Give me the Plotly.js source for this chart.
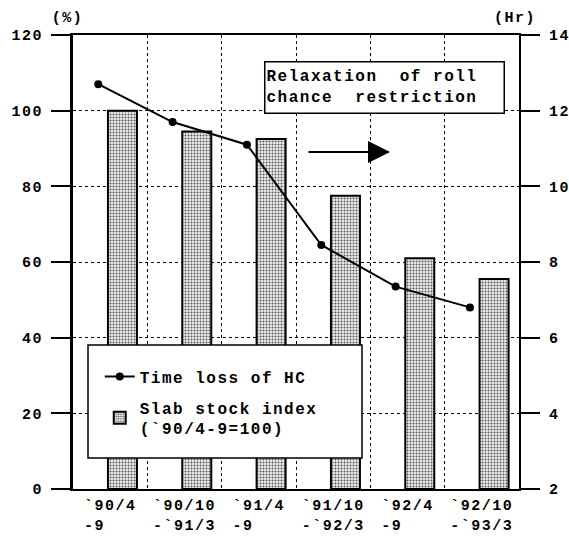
<!DOCTYPE html>
<html>
<head>
<meta charset="utf-8">
<script src="https://cdn.plot.ly/plotly-3.0.1.min.js"></script>
<style>
html,body{margin:0;padding:0;background:#fff;}
#chart{width:569px;height:536px;}
.main-svg text{letter-spacing:1.5px;}
</style>
</head>
<body>
<div id="chart"></div>
<script>
// Data
var periods = ["`90/4<br>-9\u00a0\u00a0\u00a0", "`90/10<br>-`91/3", "`91/4<br>-9\u00a0\u00a0\u00a0", "`91/10<br>-`92/3", "`92/4<br>-9\u00a0\u00a0\u00a0", "`92/10<br>-`93/3"];
var slabStockIndex = [100, 94.5, 92.5, 77.5, 61, 55.5];      // % (left axis)
var timeLossHC = [12.7, 11.7, 11.1, 8.45, 7.35, 6.8];        // Hr (right axis)
var leftTicks = [0, 20, 40, 60, 80, 100, 120];
var rightTicks = [2, 4, 6, 8, 10, 12, 14];

var idx = periods.map(function (_, i) { return i; });
var lineX = idx.map(function (i) { return i - 0.16; });

var FONT = "'Liberation Mono', 'DejaVu Sans Mono', monospace";
var PAD = '\u00a0\u00a0\u00a0\u00a0\u00a0';

var traces = [
  {
    type: 'bar',
    name: 'Slab stock index' + PAD + '<br>(`90/4-9=100)',
    x: idx,
    y: slabStockIndex,
    width: 0.39,
    offset: -0.03,
    marker: {
      color: '#d0d0d0',
      line: {color: '#000', width: 2},
      pattern: {shape: '.', fgcolor: '#555', bgcolor: '#eeeeee', size: 3, solidity: 0.35}
    },
    legendgroup: 'b',
    legendrank: 2,
    xaxis: 'x', yaxis: 'y'
  },
  {
    type: 'scatter',
    mode: 'lines+markers',
    name: 'Time loss of HC' + PAD,
    x: lineX,
    y: timeLossHC,
    line: {color: '#000', width: 2},
    marker: {color: '#000', size: 8, symbol: 'circle'},
    legendgroup: 'a',
    legendrank: 1,
    xaxis: 'x', yaxis: 'y2'
  }
];

var layout = {
  width: 569, height: 536,
  margin: {l: 73, r: 50, t: 35, b: 47},
  paper_bgcolor: '#fff', plot_bgcolor: '#fff',
  font: {family: FONT, size: 15, color: '#000', weight: 'bold'},
  showlegend: true,
  legend: {
    x: 0.06, y: 0.285, xanchor: 'left', yanchor: 'top',
    bgcolor: 'rgba(0,0,0,0)', borderwidth: 0,
    font: {family: FONT, size: 16, color: '#000', weight: 'bold'},
    tracegroupgap: 7,
    traceorder: 'grouped'
  },
  xaxis: {
    range: [-0.5, 5.5],
    tickmode: 'array', tickvals: idx, ticktext: periods,
    ticks: '', showgrid: false, zeroline: false,
    showline: true, linecolor: '#000', linewidth: 2, mirror: true,
    ticklabelstandoff: 1,
    tickfont: {family: FONT, size: 15, color: '#000', weight: 'bold'},
    minor: {tick0: 0.5, dtick: 1, showgrid: true, gridcolor: '#000', gridwidth: 1, griddash: 'dot', ticks: ''},
    fixedrange: true
  },
  yaxis: {
    range: [0, 120], tickmode: 'array', tickvals: leftTicks,
    ticks: 'outside', ticklen: 19, tickwidth: 2, tickcolor: '#000',
    showline: true, linecolor: '#000', linewidth: 3,
    showgrid: true, gridcolor: '#000', gridwidth: 1, griddash: 'dot',
    zeroline: false, ticklabelstandoff: 5,
    tickfont: {family: FONT, size: 15, color: '#000', weight: 'bold'},
    fixedrange: true
  },
  yaxis2: {
    range: [2, 14], tickmode: 'array', tickvals: rightTicks,
    overlaying: 'y', side: 'right',
    ticks: 'outside', ticklen: 19, tickwidth: 2, tickcolor: '#000',
    showline: true, linecolor: '#000', linewidth: 2,
    showgrid: false, zeroline: false, ticklabelstandoff: 6,
    tickfont: {family: FONT, size: 15, color: '#000', weight: 'bold'},
    fixedrange: true
  },
  shapes: [
    {type: 'rect', xref: 'paper', yref: 'paper', layer: 'above',
     x0: (88 - 73) / 446, x1: (362 - 73) / 446, y0: (489 - 458) / 454, y1: (489 - 345) / 454,
     fillcolor: '#fff', line: {color: '#000', width: 1.5}}
  ],
  annotations: [
    {text: '(%)', xref: 'paper', yref: 'paper', x: (67 - 73) / 446, y: (489 - 18) / 454,
     xanchor: 'center', yanchor: 'middle',
     showarrow: false, font: {family: FONT, size: 15, color: '#000', weight: 'bold'}},
    {text: '(Hr)', xref: 'paper', yref: 'paper', x: (515 - 73) / 446, y: (489 - 18) / 454,
     xanchor: 'center', yanchor: 'middle',
     showarrow: false, font: {family: FONT, size: 15, color: '#000', weight: 'bold'}},
    {text: 'Relaxation\u00a0\u00a0of roll<br>chance\u00a0\u00a0restriction', xref: 'paper', yref: 'paper',
     x: (384 - 73) / 446, y: (489 - 87.5) / 454, xanchor: 'center', yanchor: 'middle',
     showarrow: false, align: 'left',
     width: 236, height: 48, bgcolor: '#fff', bordercolor: '#000', borderwidth: 1.5, borderpad: 1,
     font: {family: FONT, size: 16, color: '#000', weight: 'bold'}},
    {text: '', xref: 'paper', yref: 'paper', x: (390 - 73) / 446, y: (489 - 152) / 454,
     xanchor: 'center', yanchor: 'middle',
     showarrow: true, ax: -83, ay: 0, arrowhead: 2, arrowsize: 2.2, arrowwidth: 2, arrowcolor: '#000'}
  ]
};

Plotly.newPlot('chart', traces, layout, {staticPlot: true, displayModeBar: false});
</script>
</body>
</html>
